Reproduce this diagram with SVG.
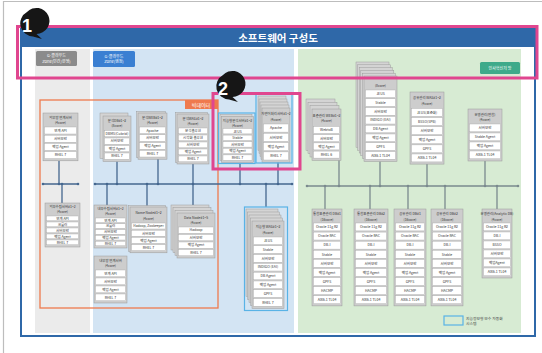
<svg xmlns="http://www.w3.org/2000/svg" width="542" height="353" viewBox="0 0 542 353">
<style>
.nb{fill:#cdcdcd;stroke:#9a9a9a;stroke-width:0.5}
.sh{fill:#d4d4d4;stroke:#979797;stroke-width:0.45}
.rw{fill:#fff;stroke:#a9a9a9;stroke-width:0.4}
.t{font-family:"Noto Sans CJK KR","Noto Sans",sans-serif;font-size:3.5px;fill:#333;text-anchor:middle}
.h{font-family:"Noto Sans CJK KR","Noto Sans",sans-serif;font-size:3.4px;fill:#333;text-anchor:middle}
.lb{font-family:"Noto Sans CJK KR","Noto Sans",sans-serif;font-size:4px;fill:#fff;text-anchor:middle}
.bus{stroke:#45678f;stroke-width:1.3;fill:none}
.gbus{stroke:#7b8a8e;stroke-width:1.3;fill:none}
.dot{fill:#45678f}
.gdot{fill:#7b8a8e}
.hl{fill:none;stroke:#59b3e6;stroke-width:1.2}
.pink{fill:none;stroke:#e0468f;stroke-width:3}
.badge{fill:#161616}
.bt{font-family:"Liberation Sans",Arial,sans-serif;font-size:18px;font-weight:bold;fill:#fff;text-anchor:middle}
</style>
<rect width="542" height="353" fill="#fff"/>
<path d="M3.5 353 V1.5 H542" fill="none" stroke="#bdbdbd" stroke-width="1.2"/>

<g id="frame">
<rect x="21" y="29" width="514" height="307" fill="#fff" stroke="#2f68a8" stroke-width="2"/>
<rect x="21" y="29" width="514" height="18" fill="#2f68a8"/>
<text x="278" y="42" font-family="'Noto Sans CJK KR','Noto Sans',sans-serif" font-size="10.5" font-weight="bold" fill="#fff" text-anchor="middle">소프트웨어 구성도</text>
<rect x="35" y="49" width="55" height="284" fill="#ebebeb"/>
<rect x="93" y="49" width="201" height="284" fill="#d3e4f3"/>
<rect x="298" y="49" width="223" height="284" fill="#d7ebd3"/>
</g>

<g id="zone-labels">
<rect x="36" y="51" width="41" height="15" rx="1.5" fill="#8b8b8b"/>
<text class="lb" x="56.5" y="57.2">G-클라우드</text>
<text class="lb" x="56.5" y="62.8">Zone(민간/운영)</text>
<rect x="93" y="51" width="42" height="16" rx="1.5" fill="#3a7fd2"/>
<text class="lb" x="114" y="57.5">G-클라우드</text>
<text class="lb" x="114" y="63.3">Zone(행정)</text>
<rect x="480" y="62" width="40" height="12" rx="1.5" fill="#3eaa8a"/>
<text class="lb" x="500" y="69.5">인사혁신처 망</text>
</g>

<g id="bigdata-box">
<rect x="40" y="100" width="178" height="208" fill="none" stroke="#ef7a4d" stroke-width="1.3"/>
<rect x="185" y="100" width="33" height="9" fill="#ef7a4d"/>
<text x="201" y="106.5" font-family="'Noto Sans CJK KR','Noto Sans',sans-serif" font-size="5" fill="#fff" text-anchor="middle">빅데이터</text>
</g>

<g id="connectors">
<path class="bus" d="M43 184H78 M59 160.8V184 M62 184V203"/>
<circle class="dot" cx="43" cy="184" r="1.3"/><circle class="dot" cx="59" cy="184" r="1.3"/><circle class="dot" cx="62" cy="184" r="1.3"/><circle class="dot" cx="78" cy="184" r="1.3"/>
<path class="bus" d="M95 184H292 M117 161.5V184 M158 159V184 M193 164V184 M240 163V184 M278 162.5V184 M107 184V205 M147 184V207 M193 184V205 M266 184V207"/>
<circle class="dot" cx="95" cy="184" r="1.3"/><circle class="dot" cx="107" cy="184" r="1.3"/><circle class="dot" cx="117" cy="184" r="1.3"/><circle class="dot" cx="147" cy="184" r="1.3"/><circle class="dot" cx="158" cy="184" r="1.3"/><circle class="dot" cx="193" cy="184" r="1.3"/><circle class="dot" cx="240" cy="184" r="1.3"/><circle class="dot" cx="266" cy="184" r="1.3"/><circle class="dot" cx="278" cy="184" r="1.3"/><circle class="dot" cx="292" cy="184" r="1.3"/>
<path class="gbus" d="M307 186H518 M339 160.3V186 M380 161.4V186 M427 164.1V186 M485 161V186 M325 186V209 M370 186V209 M408 186V209 M445 186V209 M497 186V209"/>
<circle class="gdot" cx="307" cy="186" r="1.3"/><circle class="gdot" cx="325" cy="186" r="1.3"/><circle class="gdot" cx="339" cy="186" r="1.3"/><circle class="gdot" cx="370" cy="186" r="1.3"/><circle class="gdot" cx="380" cy="186" r="1.3"/><circle class="gdot" cx="408" cy="186" r="1.3"/><circle class="gdot" cx="427" cy="186" r="1.3"/><circle class="gdot" cx="445" cy="186" r="1.3"/><circle class="gdot" cx="485" cy="186" r="1.3"/><circle class="gdot" cx="497" cy="186" r="1.3"/><circle class="gdot" cx="518" cy="186" r="1.3"/>
</g>

<g id="n1">
<rect class="nb" x="43" y="113" width="35" height="47.8"/>
<text class="h" x="60.5" y="119">외부망 연계서버</text><text class="h" x="60.5" y="124.3">(4core)</text>
<rect class="rw" x="44.5" y="127" width="32" height="7"/><text class="t" x="60.5" y="131.8">연계 API</text>
<rect class="rw" x="44.5" y="135.2" width="32" height="7"/><text class="t" x="60.5" y="140">서버보안</text>
<rect class="rw" x="44.5" y="143.4" width="32" height="7"/><text class="t" x="60.5" y="148.2">백업 Agent</text>
<rect class="rw" x="44.5" y="151.6" width="32" height="7"/><text class="t" x="60.5" y="156.4">RHEL 7</text>
</g>

<g id="n4">
<rect class="nb" x="45" y="203" width="35" height="44"/>
<text class="h" x="62.5" y="208.3">외부수집서버#1~2</text><text class="h" x="62.5" y="213">(4core)</text>
<rect class="rw" x="46.5" y="216" width="32" height="4.8"/><text class="t" x="62.5" y="219.7">연계 API</text>
<rect class="rw" x="46.5" y="222" width="32" height="4.8"/><text class="t" x="62.5" y="225.7">크롤러</text>
<rect class="rw" x="46.5" y="228" width="32" height="4.8"/><text class="t" x="62.5" y="231.7">서버보안</text>
<rect class="rw" x="46.5" y="234" width="32" height="4.8"/><text class="t" x="62.5" y="237.7">백업 Agent</text>
<rect class="rw" x="46.5" y="240" width="32" height="4.8"/><text class="t" x="62.5" y="243.7">RHEL 7</text>
</g>

<g id="n2">
<rect class="sh" x="100" y="113" width="28" height="45.5"/>
<rect class="nb" x="103" y="116" width="28" height="45.5"/>
<text class="h" x="117" y="121.8">분석DB#1~2</text><text class="h" x="117" y="127">(8core)</text>
<rect class="rw" x="104.5" y="130.5" width="25" height="6.3"/><text class="t" x="117" y="134.9">DBMS(Cubrid)</text>
<rect class="rw" x="104.5" y="138" width="25" height="6.3"/><text class="t" x="117" y="142.4">서버보안</text>
<rect class="rw" x="104.5" y="145.5" width="25" height="6.3"/><text class="t" x="117" y="149.9">백업 Agent</text>
<rect class="rw" x="104.5" y="153" width="25" height="6.3"/><text class="t" x="117" y="157.4">RHEL 7</text>
</g>

<g id="n3">
<rect class="sh" x="136.5" y="111.5" width="29" height="46.2"/>
<rect class="nb" x="138" y="113" width="29" height="46.2"/>
<text class="h" x="152.5" y="119">분석WEB#1~2</text><text class="h" x="152.5" y="124.3">(4core)</text>
<rect class="rw" x="139.5" y="127" width="26" height="6.6"/><text class="t" x="152.5" y="131.6">Apache</text>
<rect class="rw" x="139.5" y="134.8" width="26" height="6.6"/><text class="t" x="152.5" y="139.4">서버보안</text>
<rect class="rw" x="139.5" y="142.6" width="26" height="6.6"/><text class="t" x="152.5" y="147.2">백업 Agent</text>
<rect class="rw" x="139.5" y="150.4" width="26" height="6.6"/><text class="t" x="152.5" y="155">RHEL 7</text>
</g>

<g id="n3b">
<rect class="sh" x="175.5" y="112.5" width="32" height="50"/>
<rect class="nb" x="177" y="114" width="32" height="50"/>
<text class="h" x="193" y="120">분석WAS#1~2</text><text class="h" x="193" y="125.3">(4core)</text>
<rect class="rw" x="178.5" y="128" width="29" height="5.8"/><text class="t" x="193" y="132.2">분석솔루션</text>
<rect class="rw" x="178.5" y="135" width="29" height="5.8"/><text class="t" x="193" y="139.2">시각화 솔루션</text>
<rect class="rw" x="178.5" y="142" width="29" height="5.8"/><text class="t" x="193" y="146.2">서버보안</text>
<rect class="rw" x="178.5" y="149" width="29" height="5.8"/><text class="t" x="193" y="153.2">백업 Agent</text>
<rect class="rw" x="178.5" y="156" width="29" height="5.8"/><text class="t" x="193" y="160.2">RHEL 7</text>
</g>

<g id="n5">
<rect class="nb" x="94" y="205" width="33" height="43"/>
<text class="h" x="110.5" y="210.3">내부수집서버#1~2</text><text class="h" x="110.5" y="215">(4core)</text>
<rect class="rw" x="95.5" y="218" width="30" height="4.6"/><text class="t" x="110.5" y="221.6">연계 API</text>
<rect class="rw" x="95.5" y="223.8" width="30" height="4.6"/><text class="t" x="110.5" y="227.4">크롤러</text>
<rect class="rw" x="95.5" y="229.6" width="30" height="4.6"/><text class="t" x="110.5" y="233.2">서버보안</text>
<rect class="rw" x="95.5" y="235.4" width="30" height="4.6"/><text class="t" x="110.5" y="239">백업 Agent</text>
<rect class="rw" x="95.5" y="241.2" width="30" height="4.6"/><text class="t" x="110.5" y="244.8">RHEL 7</text>
</g>

<g id="n6">
<rect class="nb" x="94" y="256" width="33" height="47"/>
<text class="h" x="110.5" y="262">내부망 연계서버</text><text class="h" x="110.5" y="267.3">(4core)</text>
<rect class="rw" x="95.5" y="270" width="30" height="6.8"/><text class="t" x="110.5" y="274.7">연계 API</text>
<rect class="rw" x="95.5" y="278" width="30" height="6.8"/><text class="t" x="110.5" y="282.7">서버보안</text>
<rect class="rw" x="95.5" y="286" width="30" height="6.8"/><text class="t" x="110.5" y="290.7">백업 Agent</text>
<rect class="rw" x="95.5" y="294" width="30" height="6.8"/><text class="t" x="110.5" y="298.7">RHEL 7</text>
</g>

<g id="n7">
<rect class="sh" x="128.5" y="205.5" width="37" height="45.8"/>
<rect class="nb" x="130" y="207" width="37" height="45.8"/>
<text class="h" x="148.5" y="214">Name Node#1~2</text><text class="h" x="148.5" y="219.5">(4core)</text>
<rect class="rw" x="131.5" y="223" width="34" height="6"/><text class="t" x="148.5" y="227.3" style="font-size:3.3px">Hadoop, Zookeeper</text>
<rect class="rw" x="131.5" y="230.2" width="34" height="6"/><text class="t" x="148.5" y="234.5">서버보안</text>
<rect class="rw" x="131.5" y="237.4" width="34" height="6"/><text class="t" x="148.5" y="241.7">백업 Agent</text>
<rect class="rw" x="131.5" y="244.6" width="34" height="6"/><text class="t" x="148.5" y="248.9">RHEL 7</text>
</g>

<g id="n8">
<rect class="sh" x="171" y="205" width="38" height="45"/>
<rect class="sh" x="173" y="207.7" width="38" height="45"/>
<rect class="sh" x="175" y="210.3" width="38" height="45"/>
<rect class="nb" x="177" y="213" width="38" height="45"/>
<text class="h" x="196" y="219">Data Node#1~5</text><text class="h" x="196" y="224.3">(4core)</text>
<rect class="rw" x="178.5" y="227" width="35" height="6.3"/><text class="t" x="196" y="231.4">Hadoop</text>
<rect class="rw" x="178.5" y="234.5" width="35" height="6.3"/><text class="t" x="196" y="238.9">서버보안</text>
<rect class="rw" x="178.5" y="242" width="35" height="6.3"/><text class="t" x="196" y="246.4">백업 Agent</text>
<rect class="rw" x="178.5" y="249.5" width="35" height="6.3"/><text class="t" x="196" y="253.9">RHEL 7</text>
</g>

<g id="n9">
<rect class="sh" x="220" y="114.5" width="32" height="46"/>
<rect class="nb" x="221.5" y="116.5" width="32" height="46"/>
<text class="h" x="237.5" y="121.7">지능형분석서버#1~2</text><text class="h" x="237.5" y="126.5">(4core)</text>
<rect class="rw" x="223" y="128.5" width="29" height="5.4"/><text class="t" x="237.5" y="132.5">JEUS</text>
<rect class="rw" x="223" y="135.1" width="29" height="5.4"/><text class="t" x="237.5" y="139.1">Stable</text>
<rect class="rw" x="223" y="141.7" width="29" height="5.4"/><text class="t" x="237.5" y="145.7">서버보안</text>
<rect class="rw" x="223" y="148.3" width="29" height="5.4"/><text class="t" x="237.5" y="152.3">백업 Agent</text>
<rect class="rw" x="223" y="154.9" width="29" height="5.4"/><text class="t" x="237.5" y="158.9">RHEL 7</text>
<rect class="hl" x="218.5" y="113" width="36.5" height="50.5"/>
</g>

<g id="n10">
<rect class="sh" x="258" y="96" width="28" height="54.2"/>
<rect class="sh" x="259" y="99" width="28" height="54.2"/>
<rect class="sh" x="260" y="102" width="28" height="54.2"/>
<rect class="sh" x="261" y="105" width="28" height="54.2"/>
<rect class="nb" x="262" y="108" width="28" height="54.2"/>
<text class="h" x="276" y="115">자연어처리서버#1~2</text><text class="h" x="276" y="120.5">(4core)</text>
<rect class="rw" x="263.5" y="124" width="25" height="8.1"/><text class="t" x="276" y="129.3">Apache</text>
<rect class="rw" x="263.5" y="133.3" width="25" height="8.1"/><text class="t" x="276" y="138.6">서버보안</text>
<rect class="rw" x="263.5" y="142.6" width="25" height="8.1"/><text class="t" x="276" y="147.9">백업 Agent</text>
<rect class="rw" x="263.5" y="151.9" width="25" height="8.1"/><text class="t" x="276" y="157.2">RHEL 7</text>
<rect class="hl" x="256" y="94" width="36" height="69"/>
</g>

<g id="n11">
<rect class="sh" x="246" y="209" width="32" height="87.4"/>
<rect class="sh" x="247.5" y="212" width="32" height="87.4"/>
<rect class="sh" x="249" y="215" width="32" height="87.4"/>
<rect class="sh" x="250.5" y="218" width="32" height="87.4"/>
<rect class="nb" x="252" y="221" width="32" height="87.4"/>
<text class="h" x="268" y="228">지능형 WAS#1~2</text><text class="h" x="268" y="233.5">(4core)</text>
<rect class="rw" x="253.5" y="237" width="29" height="7.6"/><text class="t" x="268" y="242">JEUS</text>
<rect class="rw" x="253.5" y="245.8" width="29" height="7.6"/><text class="t" x="268" y="250.8">Stable</text>
<rect class="rw" x="253.5" y="254.6" width="29" height="7.6"/><text class="t" x="268" y="259.6">서버보안</text>
<rect class="rw" x="253.5" y="263.4" width="29" height="7.6"/><text class="t" x="268" y="268.4">INDIGO (EAI)</text>
<rect class="rw" x="253.5" y="272.2" width="29" height="7.6"/><text class="t" x="268" y="277.2">DB Agent</text>
<rect class="rw" x="253.5" y="281" width="29" height="7.6"/><text class="t" x="268" y="286">백업 Agent</text>
<rect class="rw" x="253.5" y="289.8" width="29" height="7.6"/><text class="t" x="268" y="294.8">GPFS</text>
<rect class="rw" x="253.5" y="298.6" width="29" height="7.6"/><text class="t" x="268" y="303.6">RHEL 7</text>
<rect class="hl" x="244.5" y="207" width="43" height="103.5"/>
</g>

<g id="n12">
<rect class="sh" x="306" y="99" width="29" height="51.3"/>
<rect class="sh" x="308" y="102.3" width="29" height="51.3"/>
<rect class="sh" x="310" y="105.7" width="29" height="51.3"/>
<rect class="nb" x="312" y="109" width="29" height="51.3"/>
<text class="h" x="326.5" y="116.5">표준관리 WEB#1~2</text><text class="h" x="326.5" y="122">(4core)</text>
<rect class="rw" x="313.5" y="126.5" width="26" height="7"/><text class="t" x="326.5" y="131.3">WebtoB</text>
<rect class="rw" x="313.5" y="134.7" width="26" height="7"/><text class="t" x="326.5" y="139.5">서버보안</text>
<rect class="rw" x="313.5" y="142.9" width="26" height="7"/><text class="t" x="326.5" y="147.7">백업 Agent</text>
<rect class="rw" x="313.5" y="151.1" width="26" height="7"/><text class="t" x="326.5" y="155.9">RHEL 6</text>
</g>

<g id="n13">
<rect class="sh" x="356" y="62" width="33" height="85.4"/>
<rect class="sh" x="357.6" y="64.8" width="33" height="85.4"/>
<rect class="sh" x="359.2" y="67.6" width="33" height="85.4"/>
<rect class="sh" x="360.8" y="70.4" width="33" height="85.4"/>
<rect class="sh" x="362.4" y="73.2" width="33" height="85.4"/>
<rect class="nb" x="364" y="76" width="33" height="85.4"/>
<text class="h" x="380.5" y="87">(8core)</text>
<rect class="rw" x="365.5" y="90" width="30" height="7.6"/><text class="t" x="380.5" y="95">JEUS</text>
<rect class="rw" x="365.5" y="98.8" width="30" height="7.6"/><text class="t" x="380.5" y="103.8">Stable</text>
<rect class="rw" x="365.5" y="107.6" width="30" height="7.6"/><text class="t" x="380.5" y="112.6">서버보안</text>
<rect class="rw" x="365.5" y="116.4" width="30" height="7.6"/><text class="t" x="380.5" y="121.4">INDIGO (EAI)</text>
<rect class="rw" x="365.5" y="125.2" width="30" height="7.6"/><text class="t" x="380.5" y="130.2">DB Agent</text>
<rect class="rw" x="365.5" y="134" width="30" height="7.6"/><text class="t" x="380.5" y="139">백업 Agent</text>
<rect class="rw" x="365.5" y="142.8" width="30" height="7.6"/><text class="t" x="380.5" y="147.8">GPFS</text>
<rect class="rw" x="365.5" y="151.6" width="30" height="7.6"/><text class="t" x="380.5" y="156.6">AIX6.1 TL04</text>
</g>

<g id="n14">
<rect class="nb" x="410" y="92" width="34" height="72.1"/>
<text class="h" x="427" y="99">공유관리 WAS#1~2</text><text class="h" x="427" y="104.8">(4core)</text>
<rect class="rw" x="411.5" y="108.5" width="31" height="7.9"/><text class="t" x="427" y="113.7">JEUS(표준화)</text>
<rect class="rw" x="411.5" y="117.6" width="31" height="7.9"/><text class="t" x="427" y="122.8">BSSO(SPB)</text>
<rect class="rw" x="411.5" y="126.7" width="31" height="7.9"/><text class="t" x="427" y="131.9">서버보안</text>
<rect class="rw" x="411.5" y="135.8" width="31" height="7.9"/><text class="t" x="427" y="141">백업 Agent</text>
<rect class="rw" x="411.5" y="144.9" width="31" height="7.9"/><text class="t" x="427" y="150.1">GPFS</text>
<rect class="rw" x="411.5" y="154" width="31" height="7.9"/><text class="t" x="427" y="159.2">AIX6.1 TL04</text>
</g>

<g id="n15">
<rect class="nb" x="468" y="109" width="34" height="52"/>
<text class="h" x="485" y="115.5">운영관리(연합)</text><text class="h" x="485" y="121">(4core)</text>
<rect class="rw" x="469.5" y="124" width="31" height="7.8"/><text class="t" x="485" y="129.1">서버보안</text>
<rect class="rw" x="469.5" y="133" width="31" height="7.8"/><text class="t" x="485" y="138.1">Stable Agent</text>
<rect class="rw" x="469.5" y="142" width="31" height="7.8"/><text class="t" x="485" y="147.1">백업 Agent</text>
<rect class="rw" x="469.5" y="151" width="31" height="7.8"/><text class="t" x="485" y="156.1">AIX6.1 TL04</text>
</g>

<g id="n16">
<rect class="nb" x="312" y="209" width="30" height="96.9"/>
<text class="h" x="327" y="215">통합표준관리 DB#1</text><text class="h" x="327" y="220.5">(16core)</text>
<rect class="rw" x="313.5" y="223" width="27" height="7.9"/><text class="t" x="327" y="228.2">Oracle 11g R2</text>
<rect class="rw" x="313.5" y="232.1" width="27" height="7.9"/><text class="t" x="327" y="237.3">Oracle RAC</text>
<rect class="rw" x="313.5" y="241.2" width="27" height="7.9"/><text class="t" x="327" y="246.4">DB-I</text>
<rect class="rw" x="313.5" y="250.3" width="27" height="7.9"/><text class="t" x="327" y="255.5">Stable</text>
<rect class="rw" x="313.5" y="259.4" width="27" height="7.9"/><text class="t" x="327" y="264.6">서버보안</text>
<rect class="rw" x="313.5" y="268.5" width="27" height="7.9"/><text class="t" x="327" y="273.7">백업 Agent</text>
<rect class="rw" x="313.5" y="277.6" width="27" height="7.9"/><text class="t" x="327" y="282.8">GPFS</text>
<rect class="rw" x="313.5" y="286.7" width="27" height="7.9"/><text class="t" x="327" y="291.9">HACMP</text>
<rect class="rw" x="313.5" y="295.8" width="27" height="7.9"/><text class="t" x="327" y="301">AIX6.1 TL04</text>
</g>

<g id="n17">
<rect class="nb" x="354" y="209" width="34" height="96.9"/>
<text class="h" x="371" y="215">통합표준관리 DB#2</text><text class="h" x="371" y="220.5">(16core)</text>
<rect class="rw" x="355.5" y="223" width="31" height="7.9"/><text class="t" x="371" y="228.2">Oracle 11g R2</text>
<rect class="rw" x="355.5" y="232.1" width="31" height="7.9"/><text class="t" x="371" y="237.3">Oracle RAC</text>
<rect class="rw" x="355.5" y="241.2" width="31" height="7.9"/><text class="t" x="371" y="246.4">DB-I</text>
<rect class="rw" x="355.5" y="250.3" width="31" height="7.9"/><text class="t" x="371" y="255.5">Stable</text>
<rect class="rw" x="355.5" y="259.4" width="31" height="7.9"/><text class="t" x="371" y="264.6">서버보안</text>
<rect class="rw" x="355.5" y="268.5" width="31" height="7.9"/><text class="t" x="371" y="273.7">백업 Agent</text>
<rect class="rw" x="355.5" y="277.6" width="31" height="7.9"/><text class="t" x="371" y="282.8">GPFS</text>
<rect class="rw" x="355.5" y="286.7" width="31" height="7.9"/><text class="t" x="371" y="291.9">HACMP</text>
<rect class="rw" x="355.5" y="295.8" width="31" height="7.9"/><text class="t" x="371" y="301">AIX6.1 TL04</text>
</g>

<g id="n18">
<rect class="nb" x="394" y="209" width="32" height="96.9"/>
<text class="h" x="410" y="215">공유관리 DB#1</text><text class="h" x="410" y="220.5">(16core)</text>
<rect class="rw" x="395.5" y="223" width="29" height="7.9"/><text class="t" x="410" y="228.2">Oracle 11g R2</text>
<rect class="rw" x="395.5" y="232.1" width="29" height="7.9"/><text class="t" x="410" y="237.3">Oracle RAC</text>
<rect class="rw" x="395.5" y="241.2" width="29" height="7.9"/><text class="t" x="410" y="246.4">DB-I</text>
<rect class="rw" x="395.5" y="250.3" width="29" height="7.9"/><text class="t" x="410" y="255.5">Stable</text>
<rect class="rw" x="395.5" y="259.4" width="29" height="7.9"/><text class="t" x="410" y="264.6">서버보안</text>
<rect class="rw" x="395.5" y="268.5" width="29" height="7.9"/><text class="t" x="410" y="273.7">백업 Agent</text>
<rect class="rw" x="395.5" y="277.6" width="29" height="7.9"/><text class="t" x="410" y="282.8">GPFS</text>
<rect class="rw" x="395.5" y="286.7" width="29" height="7.9"/><text class="t" x="410" y="291.9">HACMP</text>
<rect class="rw" x="395.5" y="295.8" width="29" height="7.9"/><text class="t" x="410" y="301">AIX6.1 TL04</text>
</g>

<g id="n19">
<rect class="nb" x="431" y="209" width="32" height="96.9"/>
<text class="h" x="447" y="215">공유관리 DB#2</text><text class="h" x="447" y="220.5">(16core)</text>
<rect class="rw" x="432.5" y="223" width="29" height="7.9"/><text class="t" x="447" y="228.2">Oracle 11g R2</text>
<rect class="rw" x="432.5" y="232.1" width="29" height="7.9"/><text class="t" x="447" y="237.3">Oracle RAC</text>
<rect class="rw" x="432.5" y="241.2" width="29" height="7.9"/><text class="t" x="447" y="246.4">DB-I</text>
<rect class="rw" x="432.5" y="250.3" width="29" height="7.9"/><text class="t" x="447" y="255.5">Stable</text>
<rect class="rw" x="432.5" y="259.4" width="29" height="7.9"/><text class="t" x="447" y="264.6">서버보안</text>
<rect class="rw" x="432.5" y="268.5" width="29" height="7.9"/><text class="t" x="447" y="273.7">백업 Agent</text>
<rect class="rw" x="432.5" y="277.6" width="29" height="7.9"/><text class="t" x="447" y="282.8">GPFS</text>
<rect class="rw" x="432.5" y="286.7" width="29" height="7.9"/><text class="t" x="447" y="291.9">HACMP</text>
<rect class="rw" x="432.5" y="295.8" width="29" height="7.9"/><text class="t" x="447" y="301">AIX6.1 TL04</text>
</g>

<g id="n20">
<rect class="nb" x="482" y="209" width="30" height="69"/>
<text class="h" x="497" y="215">운영관리(Analytic DB)</text><text class="h" x="497" y="220.5">(4core)</text>
<rect class="rw" x="483.5" y="223" width="27" height="7.8"/><text class="t" x="497" y="228.1">Oracle 11g R2</text>
<rect class="rw" x="483.5" y="232" width="27" height="7.8"/><text class="t" x="497" y="237.1">DB-I</text>
<rect class="rw" x="483.5" y="241" width="27" height="7.8"/><text class="t" x="497" y="246.1">BSSO</text>
<rect class="rw" x="483.5" y="250" width="27" height="7.8"/><text class="t" x="497" y="255.1">서버보안</text>
<rect class="rw" x="483.5" y="259" width="27" height="7.8"/><text class="t" x="497" y="264.1">백업Agent</text>
<rect class="rw" x="483.5" y="268" width="27" height="7.8"/><text class="t" x="497" y="273.1">AIX6.1 TL04</text>
</g>

<g id="legend">
<rect class="hl" x="444" y="316" width="19" height="9"/>
<text x="466" y="320" font-family="'Noto Sans CJK KR','Noto Sans',sans-serif" font-size="3.8" fill="#444">지능정보형 보수 자동화</text>
<text x="466" y="325.3" font-family="'Noto Sans CJK KR','Noto Sans',sans-serif" font-size="3.8" fill="#444">시스템</text>
</g>

<g id="highlight-1">
<rect class="pink" x="17.5" y="26.5" width="519.5" height="51.5"/>
<path class="badge" d="M27 12 A13 13 0 1 1 36.5 33.9 L42 39 L33 36.4 A13 13 0 0 1 27 12 Z"/>
<text class="bt" x="27" y="31.5">1</text>
</g>
<g id="highlight-2">
<rect class="pink" x="213" y="93.5" width="87" height="75.5"/>
<path class="badge" d="M223 75 A13 13 0 1 1 232.5 96.9 L238 102 L229 99.4 A13 13 0 0 1 223 75 Z"/>
<text class="bt" x="223" y="94.5">2</text>
</g>
</svg>
